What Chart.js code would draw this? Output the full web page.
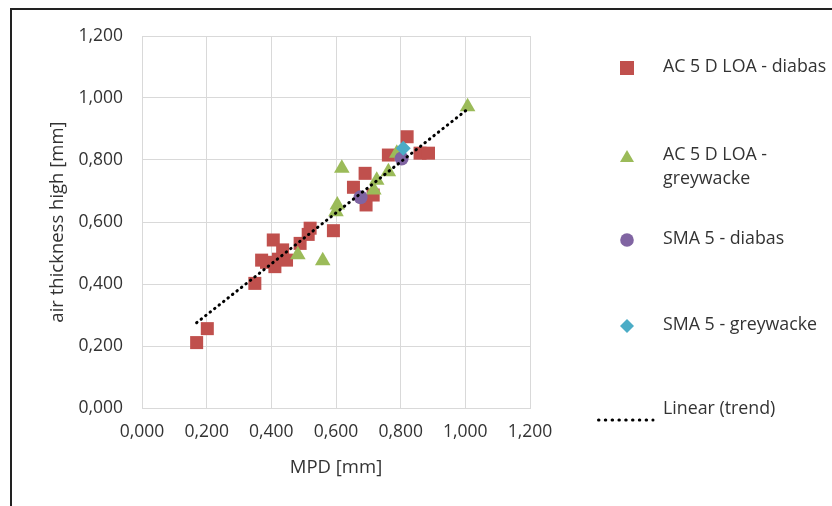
<!DOCTYPE html>
<html>
<head>
<meta charset="utf-8">
<script src="https://cdn.jsdelivr.net/npm/chart.js@4"></script>
<style>
  html, body { margin: 0; padding: 0; background: #fff; }
  #wrap { position: relative; width: 832px; height: 506px; overflow: hidden; font-family: "Open Sans", sans-serif; color: #333; }
  #frame { position: absolute; left: 10px; top: 8px; width: 900px; height: 600px; border-left: 2px solid #222; border-top: 2px solid #222; pointer-events: none; }
  canvas { position: absolute; left: 0; top: 0; }
  .lg { position: absolute; font-size: 17.8px; line-height: 24px; color: #333; white-space: nowrap; }
  .mk { position: absolute; }
</style>
</head>
<body>
<div id="wrap">
  <canvas id="c" width="832" height="506"></canvas>
  <div id="frame"></div>
  <div id="legend"></div>
</div>
<script>
// ---- data ----
const diabasX = [0.169, 0.202, 0.349, 0.370, 0.385, 0.406, 0.411, 0.422, 0.435, 0.447, 0.489, 0.514, 0.520, 0.592, 0.654, 0.690, 0.693, 0.715, 0.762, 0.820, 0.860, 0.886];
const diabasY = [0.211, 0.256, 0.402, 0.477, 0.470, 0.542, 0.456, 0.480, 0.510, 0.477, 0.531, 0.560, 0.580, 0.572, 0.712, 0.757, 0.655, 0.687, 0.816, 0.875, 0.822, 0.822];

const greyX = [0.482, 0.559, 0.600, 0.604, 0.618, 0.717, 0.726, 0.762, 0.788, 1.007];
const greyY = [0.494, 0.475, 0.633, 0.655, 0.773, 0.703, 0.735, 0.762, 0.822, 0.972];

const smaDiabasX = [0.676, 0.803];
const smaDiabasY = [0.680, 0.805];

const smaGreyX = [0.808];
const smaGreyY = [0.838];

const trendX = [0.169, 1.007];
const trendY = [0.275, 0.964];

const seriesNames = ['AC 5 D LOA - diabas', 'AC 5 D LOA - greywacke', 'SMA 5 - diabas', 'SMA 5 - greywacke', 'Linear (trend)'];
const xTickValues = [0, 0.2, 0.4, 0.6, 0.8, 1.0, 1.2];
const yTickValues = [0, 0.2, 0.4, 0.6, 0.8, 1.0, 1.2];
const xTitle = 'MPD [mm]';
const yTitle = 'air thickness high [mm]';

// ---- build ----
const pts = (xs, ys) => xs.map((x, i) => ({ x: x, y: ys[i] }));
const fmt = v => v.toFixed(3).replace('.', ',');

const C_RED = '#c0504d', C_GREEN = '#9bbb59', C_PURPLE = '#8064a2', C_CYAN = '#4bacc6';
const TXT = '#333333';
const FONT = '"Open Sans", sans-serif';
const PLOT = { left: 142, right: 530, top: 36, bottom: 408 };

new Chart(document.getElementById('c'), {
  type: 'scatter',
  data: {
    datasets: [
      { label: seriesNames[0], data: pts(diabasX, diabasY), pointStyle: 'rect', pointRadius: 9.2, pointHoverRadius: 9.2,
        backgroundColor: C_RED, borderColor: C_RED, borderWidth: 0, order: 5 },
      { label: seriesNames[1], data: pts(greyX, greyY), pointStyle: 'triangle', pointRadius: 9, pointHoverRadius: 9,
        backgroundColor: C_GREEN, borderColor: C_GREEN, borderWidth: 0, order: 4 },
      { label: seriesNames[2], data: pts(smaDiabasX, smaDiabasY), pointStyle: 'circle', pointRadius: 7, pointHoverRadius: 7,
        backgroundColor: C_PURPLE, borderColor: C_PURPLE, borderWidth: 0, order: 3 },
      { label: seriesNames[3], data: pts(smaGreyX, smaGreyY), pointStyle: 'rectRot', pointRadius: 7.5, pointHoverRadius: 7.5,
        backgroundColor: C_CYAN, borderColor: C_CYAN, borderWidth: 0, order: 2 },
      { label: seriesNames[4], data: pts(trendX, trendY), showLine: true, pointRadius: 0, pointHoverRadius: 0,
        borderColor: '#000', borderWidth: 3, borderDash: [0.5, 5.2], borderCapStyle: 'round', fill: false, order: 1 }
    ]
  },
  options: {
    responsive: false,
    animation: false,
    events: [],
    layout: { padding: { left: 0, top: PLOT.top, right: 832 - PLOT.right, bottom: 0 } },
    plugins: { legend: { display: false }, tooltip: { enabled: false } },
    scales: {
      x: {
        type: 'linear', min: 0, max: 1.2,
        afterBuildTicks: s => { s.ticks = xTickValues.map(v => ({ value: v })); },
        afterFit: s => { s.height = 506 - PLOT.bottom; },
        ticks: { padding: 14, color: TXT, font: { family: FONT, size: 17.5 }, callback: v => fmt(v) },
        grid: { color: '#d9d9d9', lineWidth: 1, drawTicks: false },
        border: { color: '#d9d9d9' },
        title: { display: true, text: xTitle, color: TXT, font: { family: FONT, size: 18.5 }, padding: { top: 0, bottom: 27 } }
      },
      y: {
        type: 'linear', min: 0, max: 1.2,
        afterBuildTicks: s => { s.ticks = yTickValues.map(v => ({ value: v })); },
        afterFit: s => { s.width = PLOT.left; },
        ticks: { padding: 19, color: TXT, font: { family: FONT, size: 17.5 }, callback: v => fmt(v) },
        grid: { color: '#d9d9d9', lineWidth: 1, drawTicks: false },
        border: { color: '#d9d9d9' },
        title: { display: true, text: yTitle, color: TXT, font: { family: FONT, size: 18.5 }, padding: { top: 47, bottom: 0 } }
      }
    }
  }
});

// ---- HTML legend ----
const legend = document.getElementById('legend');
const rows = [
  { y: 65, lines: 1, mk: 'sq', c: C_RED },
  { y: 153, lines: 2, mk: 'tri', c: C_GREEN },
  { y: 237, lines: 1, mk: 'circ', c: C_PURPLE },
  { y: 323, lines: 1, mk: 'dia', c: C_CYAN },
  { y: 407, lines: 1, mk: 'dot', c: '#000' }
];
rows.forEach((r, i) => {
  const t = document.createElement('div');
  t.className = 'lg';
  t.style.left = '663px';
  t.style.top = (r.y - 12) + 'px';
  t.innerHTML = (r.lines > 1 ? [seriesNames[i].slice(0, 12), seriesNames[i].slice(13)] : [seriesNames[i]]).join('<br>');
  legend.appendChild(t);
  const m = document.createElement('div');
  m.className = 'mk';
  const cx = 627;
  let svg;
  if (r.mk === 'sq') svg = `<svg width="14" height="14"><rect x="0" y="0" width="14" height="14" fill="${r.c}"/></svg>`;
  if (r.mk === 'tri') svg = `<svg width="14" height="14"><polygon points="7,1 14,13 0,13" fill="${r.c}"/></svg>`;
  if (r.mk === 'circ') svg = `<svg width="14" height="14"><circle cx="7" cy="7" r="6.8" fill="${r.c}"/></svg>`;
  if (r.mk === 'dia') svg = `<svg width="14" height="14"><polygon points="7,0 14,7 7,14 0,7" fill="${r.c}"/></svg>`;
  if (r.mk === 'dot') {
    svg = `<svg width="58" height="4"><line x1="1.5" y1="2" x2="56" y2="2" stroke="#000" stroke-width="3" stroke-linecap="round" stroke-dasharray="0.5 6.3"/></svg>`;
    m.style.left = '597px'; m.style.top = (r.y - 2) + 'px';
  } else {
    m.style.left = (cx - 7) + 'px'; m.style.top = (r.y - 7) + 'px';
  }
  m.innerHTML = svg;
  legend.appendChild(m);
});
</script>
</body>
</html>
